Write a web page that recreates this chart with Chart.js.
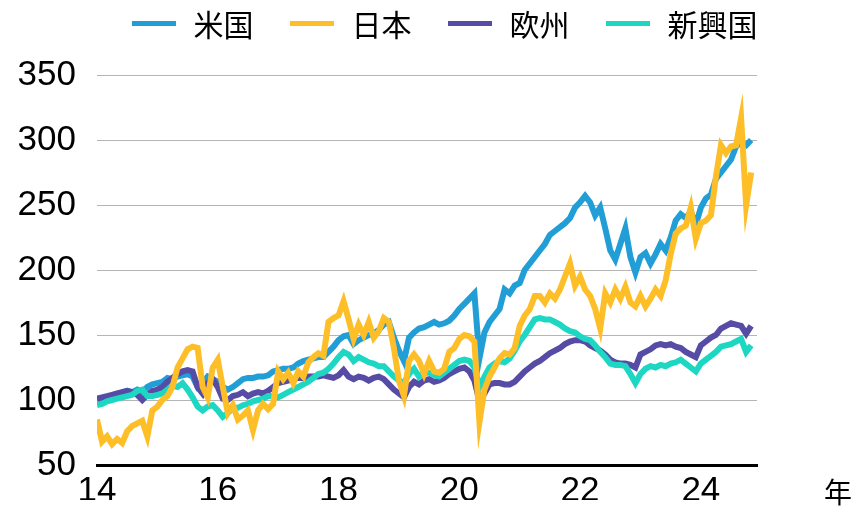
<!DOCTYPE html>
<html lang="ja">
<head>
<meta charset="utf-8">
<title>株価指数の推移</title>
<script src="https://cdn.jsdelivr.net/npm/chart.js@4.4.1/dist/chart.umd.min.js"></script>
<style>
  body { margin: 0; background: #fff; }
  .wrap { position: relative; width: 855px; height: 507px; }
  #chart { position: absolute; left: 0; top: 0; }
  #legend {
    position: absolute; top: 5px; left: 0; width: 855px;
    display: flex; justify-content: center; gap: 36px;
    padding-left: 34px; box-sizing: border-box;
    font-family: "Noto Sans CJK JP", sans-serif; font-size: 30px; line-height: 36px; color: #000;
  }
  .item { display: flex; align-items: center; }
  .swatch { width: 44px; height: 5px; margin-right: 18px; }
  #unit {
    position: absolute; left: 824px; top: 474px;
    font-family: "Noto Sans CJK JP", sans-serif; font-size: 28px; line-height: 34px;
  }
</style>
</head>
<body>
<div class="wrap">
  <canvas id="chart" width="855" height="507"></canvas>
  <div id="legend"></div>
  <div id="unit">年</div>
</div>
<script>
// monthly index levels, Jan 2014 = 100 (approx.)
const names = ["米国", "日本", "欧州", "新興国"];
const colors = ["#219ED6", "#FEBE28", "#564BA5", "#1ED7C3"];

const us = [100,101,102,103,104,106,107,106,108,106,110,112,
  113,114,117,116,118,119,120,118,110,113,118,116,
  114,110,108,110,113,116,117,117,118,118,119,122,
  123,124,124,125,128,130,131,132,133,133,137,141,
  146,149,150,143,146,148,150,151,154,158,160,148,
  138,130,148,152,155,156,158,160,158,159,161,165,
  170,174,178,182,132,152,160,165,170,185,182,188,
  190,200,205,210,215,220,227,230,233,236,240,248,
  252,257,252,242,248,232,215,208,220,232,210,198,
  210,213,205,212,220,215,225,238,243,240,245,235,
  248,255,258,270,275,280,285,295,298,296,300];

const japan = [85,68,72,66,70,67,76,80,82,84,72,92,
  95,100,103,110,125,132,139,141,140,110,102,125,
  131,110,90,96,85,88,92,77,92,97,93,97,
  122,116,121,113,122,118,129,133,136,134,160,163,
  165,176,162,147,158,150,160,148,153,163,160,140,
  115,103,130,135,130,120,130,122,121,124,137,140,
  147,150,149,145,83,108,118,125,132,136,135,140,
  157,165,170,180,180,175,182,178,185,195,205,188,
  195,185,180,170,155,182,175,185,178,187,175,172,
  180,172,178,185,180,192,212,228,232,234,248,224,
  236,238,242,272,296,290,295,296,317,250,275];

const europe = [101,102,103,104,105,106,107,106,104,100,104,107,
  108,110,114,117,120,122,123,122,110,105,113,116,
  110,101,100,103,104,106,103,105,106,105,107,110,
  113,114,115,116,117,117,118,118,118,119,118,117,
  119,123,118,116,118,117,115,117,118,116,112,108,
  105,102,110,114,112,115,116,114,115,117,120,122,
  124,125,122,115,99,105,112,113,113,112,112,114,
  118,122,125,128,130,133,136,138,140,143,145,146,
  146,145,142,140,138,135,131,129,128,128,127,125,
  135,137,139,142,143,142,143,141,140,137,135,133,
  142,145,148,150,155,157,159,158,157,151,157];

const emerging = [96,97,99,100,101,102,103,104,107,108,103,103,
  104,105,108,111,110,113,108,102,95,92,95,96,
  92,87,90,94,94,96,97,99,100,101,103,103,
  102,104,106,108,110,112,114,117,120,121,124,128,
  133,137,135,130,133,131,129,128,126,126,122,118,
  115,113,120,124,118,121,121,119,118,121,124,127,
  130,131,130,125,110,118,125,128,130,129,132,138,
  145,150,156,162,163,162,162,160,158,155,153,152,
  149,147,146,142,137,133,128,127,127,126,120,113,
  120,124,126,125,127,126,128,129,131,128,125,122,
  128,131,134,137,141,142,143,145,147,137,142];

const yTicks = [50, 100, 150, 200, 250, 300, 350];
const xTicks = [2014, 2016, 2018, 2020, 2022, 2024];

// time axis in fractional years, one point per month from Jan 2014
const months = us.map((_, i) => 2014 + i / 12);

const series = [us, japan, europe, emerging];
// yellow on top, then teal, purple, blue underneath
const drawOrder = [3, 0, 2, 1];

const datasets = series.map((vals, k) => ({
  label: names[k],
  data: vals.map((v, i) => ({ x: months[i], y: v })),
  borderColor: colors[k],
  backgroundColor: colors[k],
  borderWidth: 6,
  pointRadius: 0,
  tension: 0,
  order: drawOrder[k]
}));

// legend as html so the spacing can be set freely
let legendHTML = "";
names.forEach((n, k) => {
  legendHTML += `<div class="item"><span class="swatch" style="background:${colors[k]}"></span>${n}</div>`;
});
document.getElementById("legend").innerHTML = legendHTML;

const tickFont = { family: "'Liberation Sans', Arial, sans-serif", size: 35 };

new Chart(document.getElementById("chart"), {
  type: "line",
  data: { datasets },
  options: {
    responsive: false,
    animation: false,
    layout: { padding: { top: 75, right: 98, bottom: 0, left: 0 } },
    plugins: { legend: { display: false }, tooltip: { enabled: false } },
    scales: {
      x: {
        type: "linear",
        min: 2014,
        max: 2024.93,
        grid: { display: false, drawTicks: false },
        border: { display: true, color: "#000", width: 3 },
        afterBuildTicks: s => { s.ticks = xTicks.map(v => ({ value: v })); },
        afterFit: s => { s.height = 35; },
        ticks: {
          font: tickFont, color: "#000", padding: 5, maxRotation: 0,
          callback: v => String(v).slice(2)
        }
      },
      y: {
        min: 50,
        max: 350,
        border: { display: false },
        grid: { color: "#b5b5b5", lineWidth: 1, drawTicks: false },
        afterBuildTicks: s => { s.ticks = yTicks.map(v => ({ value: v })); },
        afterFit: s => { s.width = 97; },
        ticks: { font: tickFont, color: "#000", padding: 21 }
      }
    }
  }
});
</script>
</body>
</html>
